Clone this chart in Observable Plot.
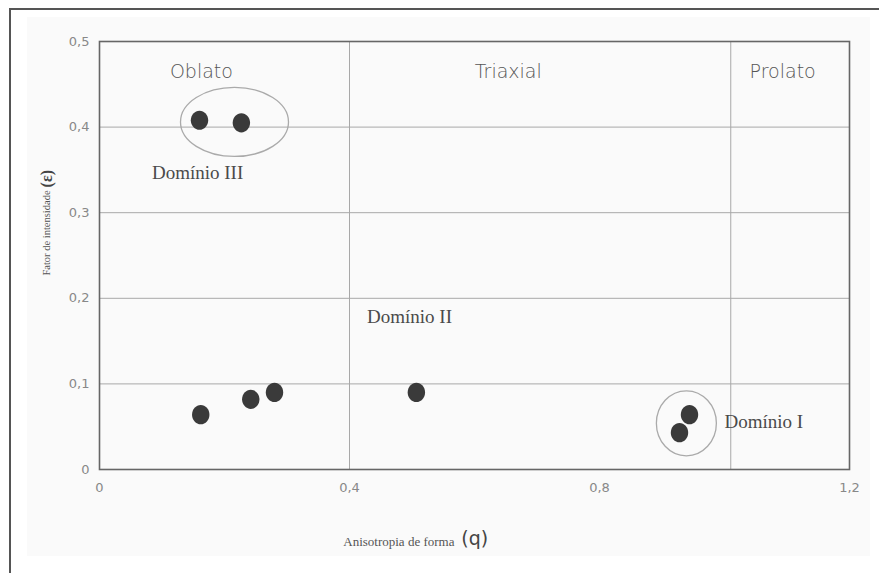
<!DOCTYPE html>
<html><head><meta charset="utf-8">
<script src="https://cdn.jsdelivr.net/npm/d3@7"></script>
<script src="https://cdn.jsdelivr.net/npm/@observablehq/plot@0.6"></script>
<style>
body{margin:0;background:#fff;}
#wrap{position:relative;width:879px;height:573px;overflow:hidden;}
#bg{position:absolute;left:27px;top:17px;width:843px;height:539px;background:#fafafa;}
#border{position:absolute;left:9px;top:8px;width:900px;height:600px;border-left:2px solid #555;border-top:2px solid #555;}
#chart{position:absolute;left:0;top:0;}
</style></head><body>
<div id="wrap"><div id="bg"></div><div id="border"></div><div id="chart"></div></div>
<script>
// Data
const qValues   = [0.160, 0.227, 0.162, 0.242, 0.280, 0.507, 0.944, 0.928];
const epsValues = [0.408, 0.405, 0.064, 0.082, 0.090, 0.090, 0.064, 0.043];
const xTicks = [0, 0.4, 0.8, 1.2];
const yTicks = [0, 0.1, 0.2, 0.3, 0.4, 0.5];
const xGrid = [0.4, 1.01];
const yGrid = [0.1, 0.2, 0.3, 0.4];
const regionNames = ["Oblato", "Triaxial", "Prolato"];
const regionQ = [0.163, 0.654, 1.093];
const regionEps = [0.465, 0.465, 0.465];
const domainNames = ["Domínio III", "Domínio II", "Domínio I"];
const domainQ = [0.157, 0.496, 1.063];
const domainEps = [0.347, 0.178, 0.056];
const groupQ = [0.216, 0.939];
const groupEps = [0.406, 0.054];

const points = qValues.map((q, i) => ({q, eps: epsValues[i]}));
const regions = regionNames.map((name, i) => ({name, q: regionQ[i], eps: regionEps[i]}));
const domains = domainNames.map((name, i) => ({name, q: domainQ[i], eps: domainEps[i]}));
const groups = groupQ.map((q, i) => ({q, eps: groupEps[i]}));

function ellipseSymbol(rx, ry) {
  const k = 0.5522847498;
  return {draw(ctx) {
    ctx.moveTo(rx, 0);
    ctx.bezierCurveTo(rx, ry * k, rx * k, ry, 0, ry);
    ctx.bezierCurveTo(-rx * k, ry, -rx, ry * k, -rx, 0);
    ctx.bezierCurveTo(-rx, -ry * k, -rx * k, -ry, 0, -ry);
    ctx.bezierCurveTo(rx * k, -ry, rx, -ry * k, rx, 0);
    ctx.closePath();
  }};
}
const fmt = d => d === 0 ? "0" : String(d).replace(".", ",");
const sans = "'DejaVu Sans', sans-serif";
const serif = "'Liberation Serif', 'DejaVu Serif', serif";

const chart = Plot.plot({
  width: 879, height: 573,
  marginLeft: 99, marginRight: 30, marginTop: 41, marginBottom: 104,
  style: {background: "transparent", overflow: "visible"},
  x: {domain: [0, 1.2]},
  y: {domain: [0, 0.5]},
  marks: [
    Plot.ruleY(yGrid, {stroke: "#a8a8a8", strokeWidth: 1}),
    Plot.ruleX(xGrid, {stroke: "#a8a8a8", strokeWidth: 1}),
    Plot.frame({stroke: "#666", strokeWidth: 1.6}),
    Plot.axisX(xTicks, {tickSize: 0, tickPadding: 13, tickFormat: fmt, fontSize: 13, fill: "#888", fontFamily: sans, label: null}),
    Plot.axisY(yTicks, {tickSize: 0, tickPadding: 10, tickFormat: fmt, fontSize: 13, fill: "#888", fontFamily: sans, label: null}),
    Plot.dot(groups.slice(0, 1), {x: "q", y: "eps", symbol: ellipseSymbol(54, 34.5), stroke: "#aaa", strokeWidth: 1.3, fill: "none"}),
    Plot.dot(groups.slice(1), {x: "q", y: "eps", symbol: ellipseSymbol(30, 32.5), stroke: "#aaa", strokeWidth: 1.3, fill: "none"}),
    Plot.dot(points, {x: "q", y: "eps", symbol: ellipseSymbol(8.7, 9.6), fill: "#3a3a3a", stroke: "none"}),
    Plot.text(regions, {x: "q", y: "eps", text: "name", fontSize: 19, fontWeight: 300, fontFamily: sans, fill: "#555"}),
    Plot.text(domains, {x: "q", y: "eps", text: "name", fontSize: 19, fontFamily: serif, fill: "#4a4a4a"}),
    Plot.text(["Anisotropia de forma"], {x: 0.39, y: 0, dy: 72, text: d => d, textAnchor: "start", fontSize: 13, fontFamily: serif, fill: "#555"}),
    Plot.text(["(q)"], {x: 0.39, y: 0, dx: 118, dy: 69, text: d => d, textAnchor: "start", fontSize: 19, fontFamily: sans, fill: "#444"}),
    Plot.text(["Fator de intensidade"], {frameAnchor: "left", y: 0.326, dx: -53, rotate: -90, text: d => d, textAnchor: "end", fontSize: 10.5, fontFamily: serif, fill: "#555"}),
    Plot.text(["(ε)"], {frameAnchor: "left", y: 0.326, dx: -53, dy: -3, rotate: -90, text: d => d, textAnchor: "start", fontSize: 16, fontFamily: serif, fontWeight: "bold", fill: "#444"})
  ]
});
document.getElementById("chart").appendChild(chart);
</script>
</body></html>
